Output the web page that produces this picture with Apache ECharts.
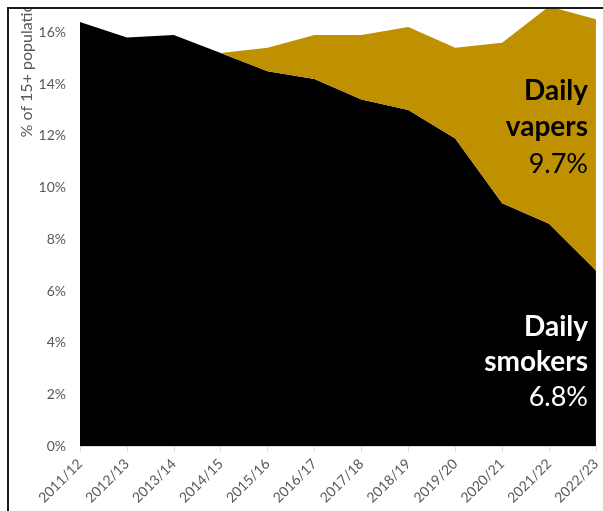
<!DOCTYPE html>
<html>
<head>
<meta charset="utf-8">
<script src="https://cdn.jsdelivr.net/npm/echarts@6/dist/echarts.min.js"></script>
<style>
  html, body { margin: 0; padding: 0; background: #fff; }
  #chart { width: 603px; height: 511px; }
</style>
</head>
<body>
<div id="chart"></div>
<script>
// Survey years
const years = ['2011/12', '2012/13', '2013/14', '2014/15', '2015/16', '2016/17',
               '2017/18', '2018/19', '2019/20', '2020/21', '2021/22', '2022/23'];
// Daily smokers, % of 15+ population
const dailySmokers = [16.4, 15.8, 15.9, 15.2, 14.5, 14.2, 13.4, 13.0, 11.9, 9.4, 8.6, 6.8];
// Daily vapers, % of 15+ population (not surveyed before 2014/15)
const dailyVapers = [null, null, null, 0, 0.9, 1.7, 2.5, 3.2, 3.5, 6.2, 8.4, 9.7];

const GOLD = '#BF9000';
const GREY = '#595959';
const FONT = 'Lato, "Open Sans", sans-serif';

const lastSmokers = dailySmokers[dailySmokers.length - 1].toFixed(1) + '%';
const lastVapers = dailyVapers[dailyVapers.length - 1].toFixed(1) + '%';

const chart = echarts.init(document.getElementById('chart'), null, { renderer: 'canvas' });

function label(text, y, bold, fill) {
  return {
    type: 'text', z: 50, x: 588, y: y,
    style: {
      text: text, fill: fill, align: 'right', verticalAlign: 'middle',
      font: (bold ? 'bold 28px ' : '27px ') + FONT
    }
  };
}

chart.setOption({
  animation: false,
  grid: { left: 80, right: 5, top: 9, bottom: 64.5, containLabel: false },
  xAxis: {
    type: 'category',
    data: years,
    boundaryGap: false,
    axisLine: { show: true, lineStyle: { color: '#D9D9D9', width: 1 } },
    axisTick: { show: true, length: 5, lineStyle: { color: '#D9D9D9' } },
    axisLabel: {
      interval: 0, rotate: 45, color: GREY, fontSize: 14,
      fontFamily: FONT, margin: 15
    },
    z: 10
  },
  yAxis: {
    type: 'value',
    min: 0, max: 16.9, interval: 2,
    splitLine: { show: false },
    axisLine: { show: false },
    axisTick: { show: false },
    axisLabel: {
      color: GREY, fontSize: 14, fontFamily: FONT, margin: 14,
      formatter: v => (Math.abs(v % 2) < 1e-9 ? v + '%' : '')
    }
  },
  series: [
    {
      name: 'Daily smokers', type: 'line', stack: 'total',
      data: dailySmokers, symbol: 'none', smooth: false,
      lineStyle: { width: 0 },
      areaStyle: { color: '#000000', opacity: 1 }
    },
    {
      name: 'Daily vapers', type: 'line', stack: 'total',
      data: dailyVapers, symbol: 'none', smooth: false,
      lineStyle: { width: 0 },
      areaStyle: { color: GOLD, opacity: 1 }
    }
  ],
  graphic: [
    label('Daily', 91, true, '#000'),
    label('vapers', 127, true, '#000'),
    label(lastVapers, 164, false, '#000'),
    label('Daily', 327, true, '#fff'),
    label('smokers', 362, true, '#fff'),
    label(lastSmokers, 397, false, '#fff'),
    {
      type: 'text', z: 40, x: 27, y: 66, rotation: Math.PI / 2,
      style: {
        text: '% of 15+ population', fill: GREY, align: 'center',
        verticalAlign: 'middle', font: '16px ' + FONT
      }
    },
    // frame around the panel
    { type: 'rect', z: 60, shape: { x: 0, y: 0, width: 603, height: 7 }, style: { fill: '#fff' } },
    { type: 'rect', z: 60, shape: { x: 0, y: 0, width: 7, height: 511 }, style: { fill: '#fff' } },
    { type: 'line', z: 61, shape: { x1: 7, y1: 8, x2: 603, y2: 8 }, style: { stroke: '#1a1a1a', lineWidth: 2 } },
    { type: 'line', z: 61, shape: { x1: 8, y1: 7, x2: 8, y2: 511 }, style: { stroke: '#1a1a1a', lineWidth: 2 } }
  ]
});
</script>
</body>
</html>
